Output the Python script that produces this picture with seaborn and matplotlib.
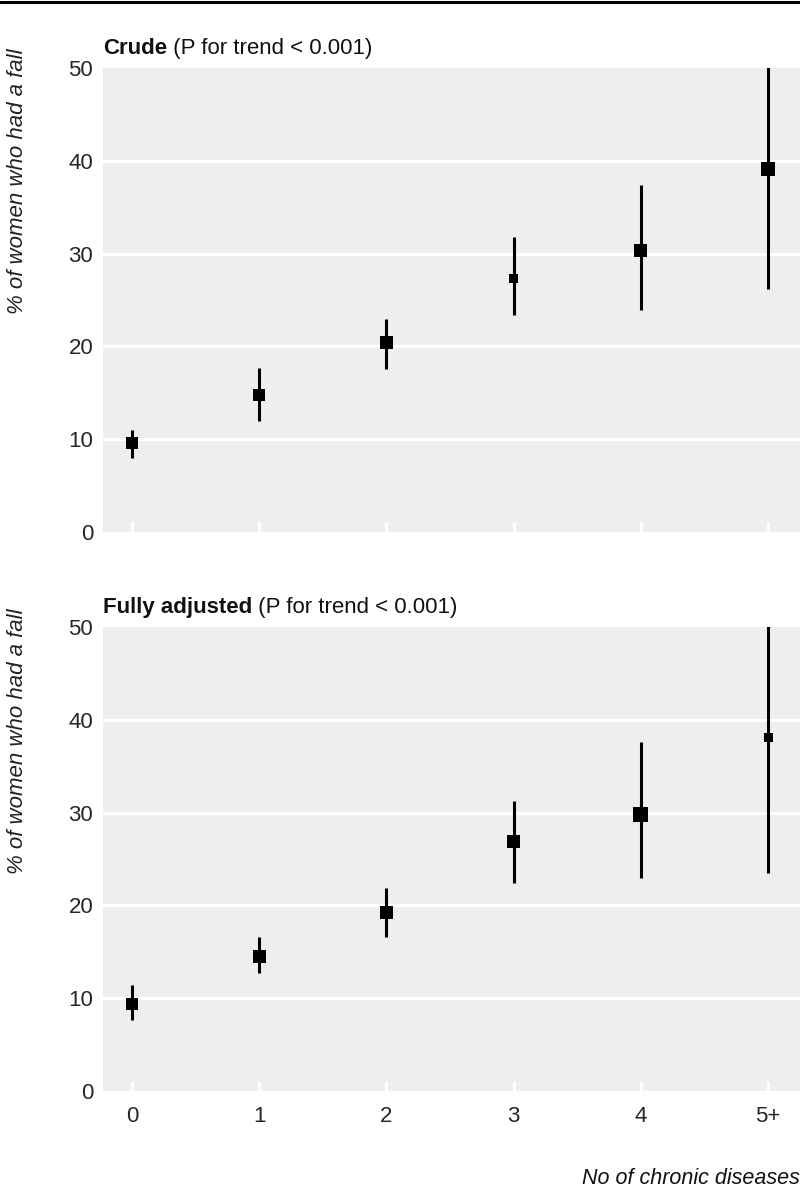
import numpy as np
import pandas as pd
import matplotlib
matplotlib.use("Agg")
import matplotlib.pyplot as plt
from matplotlib.lines import Line2D
import seaborn as sns

# data
categories = ["0", "1", "2", "3", "4", "5+"]

crude_pct = [9.6, 14.8, 20.4, 27.3, 30.3, 39.1]
crude_lo = [8.0, 12.0, 17.6, 23.4, 23.9, 26.2]
crude_hi = [11.0, 17.7, 23.0, 31.8, 37.4, 52.0]
crude_box = [12, 12, 13, 9, 13, 14]

adj_pct = [9.4, 14.5, 19.2, 26.9, 29.8, 38.1]
adj_lo = [7.7, 12.7, 16.6, 22.4, 23.0, 23.5]
adj_hi = [11.4, 16.6, 21.9, 31.3, 37.6, 52.0]
adj_box = [12, 13, 13, 13, 15, 9]

sns.set_theme(style="white")
plt.rcParams['font.family'] = ['Liberation Sans Narrow', 'Liberation Sans', 'DejaVu Sans']

W, H = 800, 1197
fig = plt.figure(figsize=(W / 100, H / 100), dpi=100)


def px_axes(left, top, right, bottom):
    return fig.add_axes([left / W, 1 - bottom / H, (right - left) / W, (bottom - top) / H])


def panel(ax, pct, lo, hi, box, bold, rest, show_xlabels):
    df = pd.DataFrame({"x": np.arange(len(categories)), "pct": pct, "lo": lo, "hi": hi,
                       "s": (np.array(box) * 0.72) ** 2})
    ax.set_facecolor("#eeeeee")
    for v in [10, 20, 30, 40]:
        ax.axhline(v, color="white", lw=2.2, zorder=1)
    ax.vlines(df["x"], df["lo"], df["hi"], color="black", lw=2.2, zorder=3)
    sns.scatterplot(data=df, x="x", y="pct", marker="s", s=df["s"], color="black",
                    edgecolor="none", linewidth=0, zorder=4, ax=ax)
    ax.set_xlim(-0.228, 5.25)
    ax.set_ylim(0, 50)
    ax.set_yticks([0, 10, 20, 30, 40, 50])
    ax.set_xticks(df["x"])
    ax.set_xticklabels(categories if show_xlabels else [])
    ax.tick_params(axis="x", direction="in", length=7, width=2, color="white", pad=11,
                   labelsize=16, bottom=True)
    ax.tick_params(axis="y", length=0, pad=7, labelsize=16)
    for s in ax.spines.values():
        s.set_visible(False)
    ax.set_xlabel("")
    ax.set_ylabel("")
    ax.text(0, 1.02, bold, transform=ax.transAxes, fontsize=16, fontweight="bold",
            ha="left", va="bottom", color="#111111")
    ax.annotate(rest, xy=(1, 0), xycoords=ax.texts[-1], fontsize=16,
                ha="left", va="bottom", color="#111111")


ax1 = px_axes(103, 68, 800, 532)
panel(ax1, crude_pct, crude_lo, crude_hi, crude_box, "Crude", " (P for trend < 0.001)", False)

ax2 = px_axes(103, 627, 800, 1091)
panel(ax2, adj_pct, adj_lo, adj_hi, adj_box, "Fully adjusted", " (P for trend < 0.001)", True)

for top in [48, 608]:
    fig.text(18 / W, 1 - top / H, "% of women who had a fall", rotation=90, style="italic",
             fontsize=16, ha="center", va="top", color="#222222")

fig.text(1.0, 1 - 1178 / H, "No of chronic diseases", style="italic", fontsize=15.5,
         ha="right", va="center", color="#111111")

fig.add_artist(Line2D([0, 1], [1 - 2 / H, 1 - 2 / H], color="black", lw=2.2,
                      transform=fig.transFigure))

plt.savefig("out.png", dpi=100)
